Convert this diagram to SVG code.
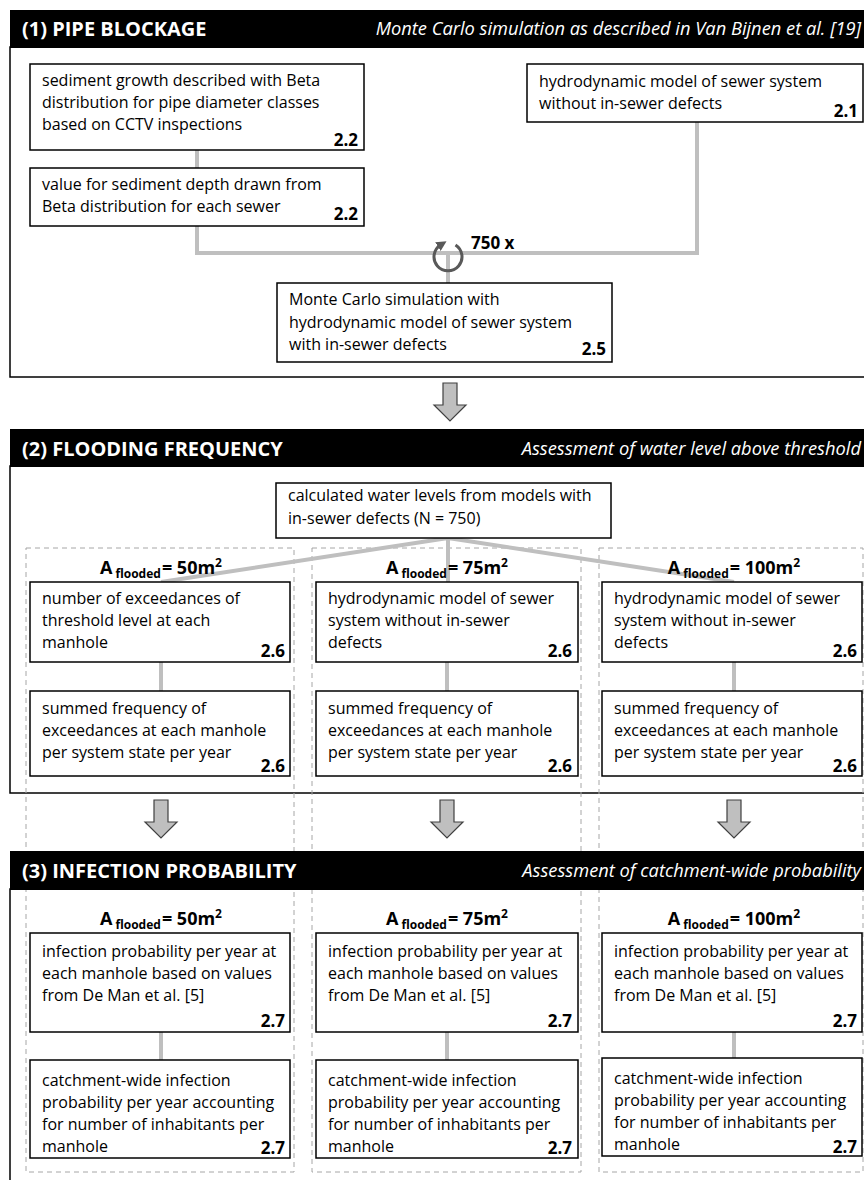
<svg xmlns="http://www.w3.org/2000/svg" width="864" height="1180" viewBox="0 0 864 1180">
<style>
text{font-family:"Open Sans","Noto Sans","Liberation Sans",sans-serif;fill:#000}
.t{font-size:16px}
.n{font-size:17px;font-weight:bold;text-anchor:end}
.h{font-size:20px;font-weight:bold;fill:#fff}
.hi{font-size:18.3px;font-style:italic;fill:#fff;text-anchor:end}
.bar{fill:#000}
.frame{fill:#fff;stroke:#000;stroke-width:1.5}
.box{fill:#fff;stroke:#000;stroke-width:1.5}
.dash{fill:none;stroke:#a6a6a6;stroke-width:1;stroke-dasharray:5 4}
.con{fill:none;stroke:#bfbfbf;stroke-width:4}
.barrow{fill:#bfbfbf;stroke:#404040;stroke-width:1.2}
.lab{font-size:18px;font-weight:bold;text-anchor:middle}
.lab tspan.s{font-size:12px}
</style>
<defs>
<marker id="ah" viewBox="0 0 10 10" refX="3" refY="5" markerWidth="3.4" markerHeight="3.4" orient="auto" markerUnits="strokeWidth">
<path d="M0,0 L10,5 L0,10 z" fill="#595959"/>
</marker>
<path id="bigarrow" d="M-7,0 H7 V22 H16 L0,38 L-16,22 H-7 Z"/>
</defs>

<!-- Section frames -->
<g id="section1">
<rect class="frame" x="10" y="47" width="870" height="330"/>
<rect class="bar" x="10" y="10" width="870" height="38"/>
<text class="h" x="22" y="36">(1) PIPE BLOCKAGE</text>
<text class="hi" x="861" y="35">Monte Carlo simulation as described in Van Bijnen et al. [19]</text>
</g>
<g id="section2">
<rect class="frame" x="10" y="466" width="870" height="327"/>
<rect class="bar" x="10" y="429" width="870" height="38"/>
<text class="h" x="22" y="456">(2) FLOODING FREQUENCY</text>
<text class="hi" x="861" y="455">Assessment of water level above threshold</text>
</g>
<g id="section3">
<rect class="frame" x="10" y="889" width="870" height="320"/>
</g>

<!-- dashed columns -->
<g id="columns">
<rect class="dash" x="26" y="548" width="268" height="624"/>
<rect class="dash" x="312" y="548" width="269" height="624"/>
<rect class="dash" x="599" y="548" width="264" height="624"/>
</g>

<g id="section3-header">
<rect class="bar" x="10" y="851" width="870" height="39"/>
<text class="h" x="22" y="878">(3) INFECTION PROBABILITY</text>
<text class="hi" x="861" y="877">Assessment of catchment-wide probability</text>
</g>

<!-- connectors -->
<g id="connectors">
<path class="con" d="M197,150 V168"/>
<path class="con" d="M197,226 V253 H697 V122"/>
<path class="con" d="M448,253 V283"/>
<path class="con" d="M448,538 L161,582 M448,538 V582 M448,538 L734,582"/>
<path class="con" d="M161,662 V691 M447,662 V691 M734,662 V691"/>
<path class="con" d="M161,1032 V1060 M447,1032 V1060 M734,1032 V1060"/>
<use href="#bigarrow" class="barrow" x="450" y="383"/>
<use href="#bigarrow" class="barrow" x="161" y="800"/>
<use href="#bigarrow" class="barrow" x="447" y="800"/>
<use href="#bigarrow" class="barrow" x="734" y="800"/>
<g id="loop">
<path d="M455.5,245 A14,14 0 1 1 440.5,245" fill="none" stroke="#595959" stroke-width="3" marker-end="url(#ah)"/>
<text x="471" y="249" style="font-size:17px;font-weight:bold">750 x</text>
</g>
</g>

<!-- Section 1 nodes -->
<g id="n22a">
<rect class="box" x="30" y="64" width="334" height="86"/>
<text class="t" x="42" y="86">sediment growth described with Beta</text>
<text class="t" x="42" y="108">distribution for pipe diameter classes</text>
<text class="t" x="42" y="130">based on CCTV inspections</text>
<text class="n" x="358" y="146">2.2</text>
</g>
<g id="n22b">
<rect class="box" x="30" y="168" width="334" height="58"/>
<text class="t" x="42" y="190">value for sediment depth drawn from</text>
<text class="t" x="42" y="212">Beta distribution for each sewer</text>
<text class="n" x="358" y="220">2.2</text>
</g>
<g id="n21">
<rect class="box" x="527" y="64" width="336" height="58"/>
<text class="t" x="539" y="87">hydrodynamic model of sewer system</text>
<text class="t" x="539" y="109">without in-sewer defects</text>
<text class="n" x="858" y="117">2.1</text>
</g>
<g id="n25">
<rect class="box" x="277" y="283" width="335" height="79"/>
<text class="t" x="289" y="305">Monte Carlo simulation with</text>
<text class="t" x="289" y="328">hydrodynamic model of sewer system</text>
<text class="t" x="289" y="350">with in-sewer defects</text>
<text class="n" x="606" y="355">2.5</text>
</g>

<!-- Section 2 nodes -->
<g id="nwl">
<rect class="box" x="276" y="483" width="335" height="55"/>
<text class="t" x="288" y="501">calculated water levels from models with</text>
<text class="t" x="288" y="524">in-sewer defects (N = 750)</text>
</g>
<g id="labels2">
<text class="lab" x="161" y="574">A<tspan class="s" dx="3" dy="4">flooded</tspan><tspan dx="1" dy="-4">= 50m</tspan><tspan class="s" dy="-7">2</tspan></text>
<text class="lab" x="447" y="574">A<tspan class="s" dx="3" dy="4">flooded</tspan><tspan dx="1" dy="-4">= 75m</tspan><tspan class="s" dy="-7">2</tspan></text>
<text class="lab" x="734" y="574">A<tspan class="s" dx="3" dy="4">flooded</tspan><tspan dx="1" dy="-4">= 100m</tspan><tspan class="s" dy="-7">2</tspan></text>
</g>
<g id="n26a1">
<rect class="box" x="30" y="582" width="260" height="80"/>
<text class="t" x="42" y="604">number of exceedances of</text>
<text class="t" x="42" y="626">threshold level at each</text>
<text class="t" x="42" y="648">manhole</text>
<text class="n" x="285" y="657">2.6</text>
</g>
<g id="n26a2">
<rect class="box" x="316" y="582" width="262" height="80"/>
<text class="t" x="328" y="604">hydrodynamic model of sewer</text>
<text class="t" x="328" y="626">system without in-sewer</text>
<text class="t" x="328" y="648">defects</text>
<text class="n" x="572" y="657">2.6</text>
</g>
<g id="n26a3">
<rect class="box" x="602" y="582" width="260" height="80"/>
<text class="t" x="614" y="604">hydrodynamic model of sewer</text>
<text class="t" x="614" y="626">system without in-sewer</text>
<text class="t" x="614" y="648">defects</text>
<text class="n" x="857" y="657">2.6</text>
</g>
<g id="n26b1">
<rect class="box" x="30" y="691" width="260" height="85"/>
<text class="t" x="42" y="714">summed frequency of</text>
<text class="t" x="42" y="736">exceedances at each manhole</text>
<text class="t" x="42" y="758">per system state per year</text>
<text class="n" x="285" y="772">2.6</text>
</g>
<g id="n26b2">
<rect class="box" x="316" y="691" width="262" height="85"/>
<text class="t" x="328" y="714">summed frequency of</text>
<text class="t" x="328" y="736">exceedances at each manhole</text>
<text class="t" x="328" y="758">per system state per year</text>
<text class="n" x="572" y="772">2.6</text>
</g>
<g id="n26b3">
<rect class="box" x="602" y="691" width="260" height="85"/>
<text class="t" x="614" y="714">summed frequency of</text>
<text class="t" x="614" y="736">exceedances at each manhole</text>
<text class="t" x="614" y="758">per system state per year</text>
<text class="n" x="857" y="772">2.6</text>
</g>

<!-- Section 3 nodes -->
<g id="labels3">
<text class="lab" x="161" y="925">A<tspan class="s" dx="3" dy="4">flooded</tspan><tspan dx="1" dy="-4">= 50m</tspan><tspan class="s" dy="-7">2</tspan></text>
<text class="lab" x="447" y="925">A<tspan class="s" dx="3" dy="4">flooded</tspan><tspan dx="1" dy="-4">= 75m</tspan><tspan class="s" dy="-7">2</tspan></text>
<text class="lab" x="734" y="925">A<tspan class="s" dx="3" dy="4">flooded</tspan><tspan dx="1" dy="-4">= 100m</tspan><tspan class="s" dy="-7">2</tspan></text>
</g>
<g id="n27a1">
<rect class="box" x="30" y="933" width="260" height="99"/>
<text class="t" x="42" y="957">infection probability per year at</text>
<text class="t" x="42" y="979">each manhole based on values</text>
<text class="t" x="42" y="1001">from De Man et al. [5]</text>
<text class="n" x="285" y="1027">2.7</text>
</g>
<g id="n27a2">
<rect class="box" x="316" y="933" width="262" height="99"/>
<text class="t" x="328" y="957">infection probability per year at</text>
<text class="t" x="328" y="979">each manhole based on values</text>
<text class="t" x="328" y="1001">from De Man et al. [5]</text>
<text class="n" x="572" y="1027">2.7</text>
</g>
<g id="n27a3">
<rect class="box" x="602" y="933" width="260" height="99"/>
<text class="t" x="614" y="957">infection probability per year at</text>
<text class="t" x="614" y="979">each manhole based on values</text>
<text class="t" x="614" y="1001">from De Man et al. [5]</text>
<text class="n" x="857" y="1027">2.7</text>
</g>
<g id="n27b1">
<rect class="box" x="30" y="1060" width="260" height="98"/>
<text class="t" x="42" y="1086">catchment-wide infection</text>
<text class="t" x="42" y="1108">probability per year accounting</text>
<text class="t" x="42" y="1130">for number of inhabitants per</text>
<text class="t" x="42" y="1152">manhole</text>
<text class="n" x="285" y="1154">2.7</text>
</g>
<g id="n27b2">
<rect class="box" x="316" y="1060" width="262" height="98"/>
<text class="t" x="328" y="1086">catchment-wide infection</text>
<text class="t" x="328" y="1108">probability per year accounting</text>
<text class="t" x="328" y="1130">for number of inhabitants per</text>
<text class="t" x="328" y="1152">manhole</text>
<text class="n" x="572" y="1154">2.7</text>
</g>
<g id="n27b3">
<rect class="box" x="602" y="1058" width="260" height="98"/>
<text class="t" x="614" y="1084">catchment-wide infection</text>
<text class="t" x="614" y="1106">probability per year accounting</text>
<text class="t" x="614" y="1128">for number of inhabitants per</text>
<text class="t" x="614" y="1150">manhole</text>
<text class="n" x="857" y="1153">2.7</text>
</g>
</svg>
